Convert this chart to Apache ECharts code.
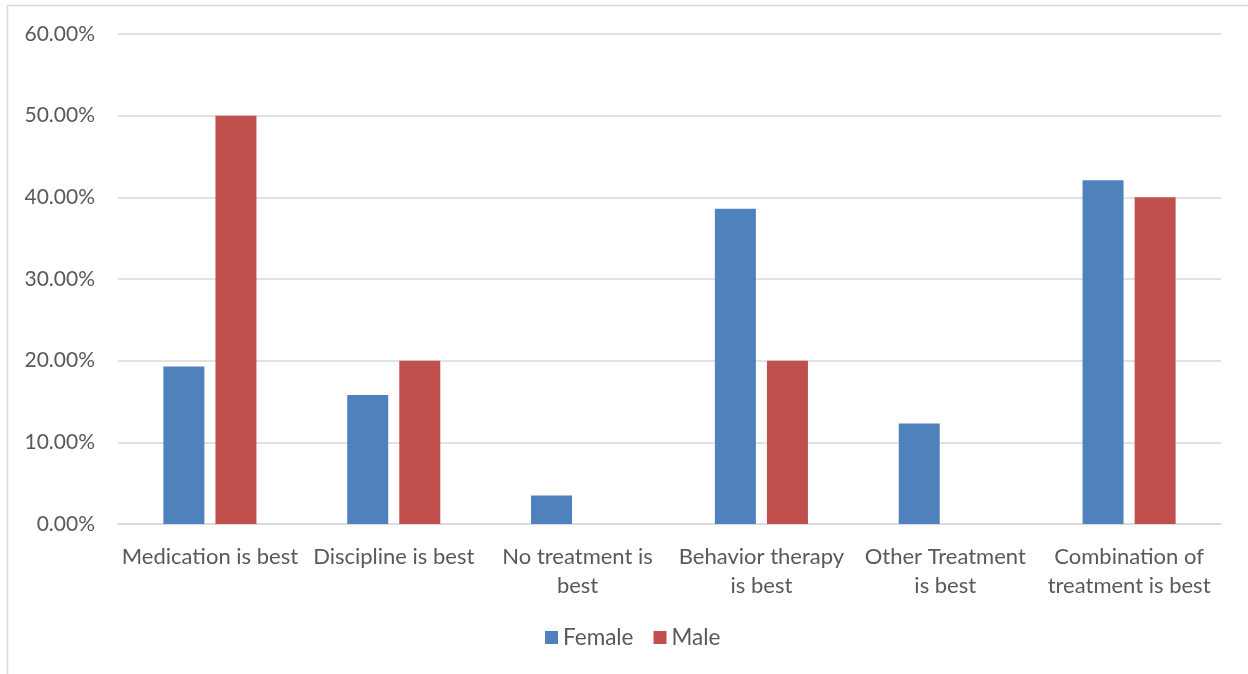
<!DOCTYPE html>
<html>
<head>
<meta charset="utf-8">
<script src="https://cdn.jsdelivr.net/npm/echarts@6/dist/echarts.min.js"></script>
<style>
  html, body { margin: 0; padding: 0; background: #fff; }
  #chart { width: 1248px; height: 674px; }
</style>
</head>
<body>
<div id="chart"></div>
<script>
// Preferred treatment, share of respondents by sex
const categories = [
  'Medication is best',
  'Discipline is best',
  'No treatment is\nbest',
  'Behavior therapy\nis best',
  'Other Treatment\nis best',
  'Combination of\ntreatment is best'
];
const femaleValues = [19.3, 15.8, 3.5, 38.6, 12.3, 42.1];
const maleValues = [50.0, 20.0, 0, 20.0, 0, 40.0];
const seriesNames = ['Female', 'Male'];
const seriesColors = ['#4F81BD', '#C0504D'];

const FONT = 'Lato, "Open Sans", sans-serif';
const TEXT = '#595959';

const chart = echarts.init(document.getElementById('chart'), null, { renderer: 'canvas' });
chart.setOption({
  animation: false,
  backgroundColor: '#fff',
  textStyle: { fontFamily: FONT, color: TEXT },
  graphic: [{
    type: 'rect',
    shape: { x: 7.5, y: 5.5, width: 1400, height: 800 },
    style: { fill: 'none', stroke: '#D9D9D9', lineWidth: 1.5 },
    silent: true,
    z: -1
  }],
  grid: { left: 118, right: 27, top: 34, bottom: 150, containLabel: false },
  legend: {
    data: seriesNames,
    bottom: 20,
    left: 540,
    itemWidth: 13,
    itemHeight: 13,
    itemGap: 20,
    icon: 'rect',
    textStyle: { fontFamily: FONT, fontSize: 22.5, color: TEXT }
  },
  xAxis: {
    type: 'category',
    data: categories,
    axisLine: { lineStyle: { color: '#D9D9D9', width: 1.5 } },
    axisTick: { show: false },
    axisLabel: {
      interval: 0,
      margin: 18,
      fontFamily: FONT,
      fontSize: 22,
      lineHeight: 29,
      color: TEXT
    }
  },
  yAxis: {
    type: 'value',
    min: 0,
    max: 60,
    interval: 10,
    axisLine: { show: false },
    axisTick: { show: false },
    splitLine: { lineStyle: { color: '#D9D9D9', width: 1.5 } },
    axisLabel: {
      margin: 23,
      fontFamily: FONT,
      fontSize: 21,
      color: TEXT,
      formatter: v => v.toFixed(2) + '%'
    }
  },
  series: [
    {
      name: seriesNames[0],
      type: 'bar',
      data: femaleValues,
      barWidth: 41,
      barGap: '27%',
      itemStyle: { color: seriesColors[0] }
    },
    {
      name: seriesNames[1],
      type: 'bar',
      data: maleValues,
      barWidth: 41,
      barGap: '27%',
      itemStyle: { color: seriesColors[1] }
    }
  ]
});
</script>
</body>
</html>
